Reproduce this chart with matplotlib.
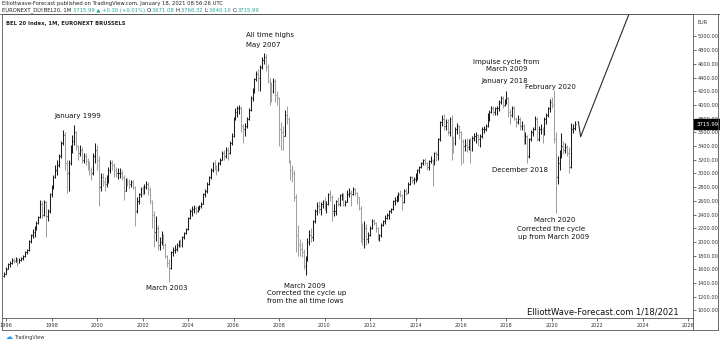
import matplotlib
matplotlib.use("Agg")
import matplotlib.pyplot as plt
import numpy as np
from matplotlib.collections import LineCollection
from matplotlib.lines import Line2D

# BEL 20 monthly bars, Dec 1995 .. Jan 2021
first_open = 1500
closes = [1540,
    1610, 1680, 1690, 1740, 1720, 1760, 1700, 1740, 1760, 1790, 1850, 1880,  # 1996
    2010, 2100, 2150, 2200, 2280, 2360, 2560, 2400, 2580, 2380, 2450, 2700,  # 1997
    2780, 2950, 3050, 3120, 3250, 3450, 3560, 3150, 3000, 3150, 3350, 3480,  # 1998
    3600, 3400, 3300, 3350, 3200, 3250, 3180, 3150, 3050, 3000, 3250, 3350,  # 1999
    3200, 2800, 2950, 2880, 2850, 2900, 3050, 3150, 3120, 3050, 3000, 3000,  # 2000
    3000, 2950, 2750, 2900, 2880, 2850, 2870, 2800, 2450, 2600, 2700, 2780,  # 2001
    2760, 2800, 2850, 2780, 2600, 2400, 2150, 2200, 1950, 2000, 2100, 1950,  # 2002
    1800, 1700, 1620, 1850, 1880, 1900, 1950, 2000, 1950, 2070, 2130, 2190,  # 2003
    2350, 2450, 2480, 2500, 2450, 2500, 2520, 2560, 2700, 2750, 2850, 2950,  # 2004
    3050, 3150, 3100, 3050, 3150, 3200, 3300, 3250, 3350, 3300, 3450, 3550,  # 2005
    3800, 3900, 3950, 3950, 3700, 3650, 3700, 3800, 3930, 4100, 4200, 4380,  # 2006
    4450, 4400, 4550, 4650, 4700, 4550, 4350, 4250, 4200, 4350, 4150, 4100,  # 2007
    3650, 3600, 3550, 3850, 3800, 3150, 3050, 3000, 2650, 2100, 1950, 1900,  # 2008
    1850, 1650, 1750, 2000, 2100, 2080, 2300, 2450, 2530, 2480, 2550, 2600,  # 2009
    2500, 2550, 2700, 2650, 2450, 2450, 2600, 2550, 2680, 2680, 2550, 2580,  # 2010
    2700, 2720, 2700, 2780, 2720, 2650, 2500, 2200, 2050, 2200, 2050, 2100,  # 2011
    2200, 2300, 2280, 2200, 2050, 2100, 2250, 2300, 2350, 2400, 2450, 2480,  # 2012
    2600, 2620, 2650, 2700, 2680, 2580, 2750, 2720, 2850, 2950, 2900, 2920,  # 2013
    2950, 3050, 3100, 3150, 3200, 3150, 3100, 3180, 3200, 3150, 3300, 3280,  # 2014
    3500, 3750, 3800, 3700, 3750, 3600, 3800, 3500, 3450, 3650, 3700, 3600,  # 2015
    3480, 3400, 3420, 3380, 3450, 3350, 3520, 3550, 3560, 3500, 3550, 3650,  # 2016
    3650, 3700, 3850, 3900, 3950, 3900, 3950, 3950, 4050, 4100, 4000, 4050,  # 2017
    4100, 3900, 3850, 3950, 3800, 3750, 3800, 3700, 3700, 3500, 3550, 3250,  # 2018
    3500, 3600, 3650, 3800, 3500, 3650, 3650, 3600, 3800, 3850, 3950, 4050,  # 2019
    4000, 3500, 2950, 3150, 3300, 3400, 3350, 3380, 3300, 3100, 3650, 3671.08,  # 2020
    3715.99]  # 2021
highs = [1560,
    1630, 1700, 1720, 1760, 1770, 1780, 1770, 1760, 1780, 1810, 1870, 1900,
    2030, 2120, 2190, 2230, 2300, 2380, 2620, 2600, 2620, 2600, 2480, 2720,
    2830, 2980, 3120, 3200, 3280, 3480, 3640, 3600, 3200, 3200, 3420, 3560,
    3710, 3620, 3420, 3420, 3380, 3300, 3300, 3220, 3180, 3100, 3300, 3440,
    3420, 3250, 3000, 3000, 2950, 2980, 3100, 3200, 3200, 3150, 3100, 3080,
    3080, 3050, 2980, 2930, 2930, 2920, 2900, 2900, 2820, 2650, 2720, 2800,
    2820, 2840, 2890, 2880, 2800, 2620, 2450, 2380, 2250, 2080, 2160, 2120,
    1980, 1810, 1750, 1870, 1930, 1960, 1980, 2030, 2040, 2090, 2150, 2210,
    2370, 2480, 2530, 2540, 2520, 2520, 2540, 2580, 2720, 2770, 2870, 2970,
    3080, 3170, 3190, 3120, 3170, 3230, 3330, 3340, 3380, 3390, 3470, 3590,
    3830, 3960, 3980, 4000, 3990, 3720, 3740, 3830, 3960, 4130, 4250, 4400,
    4500, 4520, 4580, 4700, 4760, 4740, 4600, 4400, 4330, 4400, 4380, 4200,
    4120, 3750, 3700, 3930, 3980, 3820, 3200, 3130, 3050, 2700, 2250, 2050,
    2000, 1900, 1800, 2060, 2180, 2200, 2320, 2480, 2580, 2600, 2580, 2620,
    2660, 2600, 2720, 2760, 2680, 2560, 2620, 2650, 2700, 2720, 2720, 2620,
    2760, 2790, 2760, 2800, 2790, 2730, 2660, 2520, 2270, 2300, 2260, 2150,
    2240, 2330, 2340, 2290, 2220, 2120, 2270, 2320, 2400, 2420, 2460, 2500,
    2620, 2660, 2680, 2730, 2760, 2700, 2770, 2790, 2870, 2970, 2970, 2950,
    3000, 3070, 3110, 3170, 3210, 3230, 3170, 3190, 3250, 3210, 3310, 3330,
    3520, 3770, 3860, 3870, 3790, 3800, 3830, 3860, 3550, 3680, 3740, 3710,
    3620, 3500, 3500, 3520, 3500, 3520, 3540, 3590, 3600, 3580, 3570, 3680,
    3700, 3720, 3880, 3930, 3990, 3980, 3970, 3980, 4070, 4130, 4130, 4090,
    4200, 4120, 3940, 3980, 3990, 3820, 3850, 3820, 3760, 3720, 3600, 3560,
    3520, 3640, 3680, 3840, 3820, 3700, 3720, 3680, 3830, 3880, 3970, 4080,
    4110, 4219, 3600, 3250, 3350, 3590, 3480, 3450, 3420, 3390, 3740, 3720,
    3766.32]
lows = [1490,
    1530, 1600, 1640, 1680, 1700, 1710, 1650, 1690, 1720, 1740, 1780, 1830,
    1870, 1990, 2060, 2080, 2180, 2260, 2350, 2350, 2380, 2080, 2300, 2430,
    2650, 2770, 2930, 2980, 3100, 3230, 3420, 3050, 2710, 2750, 3120, 3300,
    3420, 3350, 3200, 3250, 3150, 3150, 3120, 3050, 2980, 2900, 2980, 3150,
    3050, 2520, 2750, 2820, 2750, 2800, 2860, 3010, 3050, 2950, 2950, 2920,
    2930, 2900, 2610, 2740, 2820, 2780, 2800, 2780, 2230, 2430, 2550, 2660,
    2680, 2700, 2770, 2690, 2560, 2200, 1930, 2020, 1880, 1880, 1960, 1900,
    1760, 1640, 1420, 1600, 1800, 1840, 1870, 1930, 1920, 1930, 2050, 2110,
    2180, 2340, 2380, 2430, 2410, 2440, 2470, 2490, 2550, 2660, 2720, 2830,
    2920, 3020, 3050, 2980, 3030, 3130, 3190, 3200, 3230, 3200, 3280, 3420,
    3530, 3780, 3830, 3870, 3600, 3440, 3550, 3660, 3780, 3910, 4060, 4180,
    4350, 4200, 4200, 4530, 4600, 4500, 4320, 4000, 4050, 4180, 4050, 4000,
    3400, 3350, 3340, 3550, 3720, 3150, 2900, 2880, 2600, 1850, 1800, 1800,
    1780, 1600, 1520, 1720, 1960, 2000, 2020, 2280, 2400, 2420, 2400, 2500,
    2460, 2420, 2540, 2600, 2300, 2380, 2400, 2520, 2520, 2620, 2520, 2530,
    2580, 2660, 2520, 2680, 2680, 2560, 2470, 2000, 1950, 1910, 1950, 1980,
    2090, 2190, 2250, 2140, 2030, 2010, 2080, 2230, 2260, 2330, 2340, 2420,
    2470, 2540, 2590, 2600, 2650, 2470, 2570, 2690, 2720, 2830, 2860, 2850,
    2870, 2900, 3000, 3080, 3130, 3130, 3050, 3050, 3150, 2820, 3120, 3180,
    3200, 3480, 3700, 3640, 3630, 3560, 3550, 3200, 3300, 3420, 3580, 3500,
    3130, 3150, 3330, 3320, 3340, 3150, 3330, 3480, 3450, 3400, 3390, 3520,
    3590, 3620, 3680, 3770, 3880, 3850, 3860, 3860, 3910, 4020, 3960, 3980,
    4010, 3820, 3720, 3830, 3780, 3680, 3720, 3640, 3640, 3430, 3430, 3150,
    3220, 3480, 3550, 3640, 3480, 3480, 3570, 3440, 3560, 3720, 3820, 3900,
    3950, 3450, 2420, 2850, 3050, 3230, 3280, 3300, 3250, 3000, 3080, 3590,
    3640.10]

# hand-drawn projection line (year, price)
proj_x = [2021.16, 2021.26, 2023.71]
proj_y = [3756, 3537, 5600]

year_ticks = list(range(1996, 2027, 2))
price_ticks = list(range(1000, 5001, 200))
last_price = 3715.99

notes = [
    ("January 1999", 1999.16, 3839),
    ("All time highs", 2007.60, 5022),
    ("May 2007", 2007.30, 4875),
    ("March 2003", 2003.06, 1329),
    ("March 2009", 2009.14, 1362),
    ("Corrected the cycle up", 2009.21, 1250),
    ("from the all time lows", 2009.14, 1138),
    ("Impulse cycle from", 2017.97, 4634),
    ("March 2009", 2018.01, 4523),
    ("January 2018", 2017.93, 4350),
    ("February 2020", 2019.94, 4268),
    ("December 2018", 2018.60, 3047),
    ("March 2020", 2020.13, 2322),
    ("Corrected the cycle", 2019.94, 2186),
    ("up from March 2009", 2020.06, 2070),
]

opens = [first_open] + closes[:-1]
x = 1995 + 11 / 12 + np.arange(len(closes)) / 12

W, H = 720, 344
fig = plt.figure(figsize=(W / 100, H / 100), dpi=100)
L, R, T, B = 2, 693, 14, 318
ax = fig.add_axes([L / W, 1 - B / H, (R - L) / W, (B - T) / H])
ax.set_xlim(1995.82, 2026.2)
ax.set_ylim(890.5, 5328)

up_col, dn_col = "#1c1c1c", "#a0a0a0"
tk = 0.035
segs, cols = [], []
for xi, o, h, l, c in zip(x, opens, highs, lows, closes):
    col = up_col if c >= o else dn_col
    segs += [[(xi, l), (xi, h)], [(xi - tk, o), (xi, o)], [(xi, c), (xi + tk, c)]]
    cols += [col] * 3
ax.add_collection(LineCollection(segs, colors=cols, linewidths=0.75))

ax.plot(proj_x, proj_y, color="#2a2a2a", lw=0.8, clip_on=True)

for s in ax.spines.values():
    s.set_color("#555555")
    s.set_linewidth(0.6)

ax.yaxis.tick_right()
ax.set_yticks(price_ticks)
ax.set_yticklabels([f"{p:.2f}" for p in price_ticks])
ax.set_xticks(year_ticks)
ax.set_xticklabels([str(y) for y in year_ticks])
ax.tick_params(axis="y", labelsize=3.6, length=2, width=0.5, pad=1.2,
               colors="#333333")
ax.tick_params(axis="x", labelsize=3.6, length=2, width=0.5, pad=1.5,
               colors="#333333")

# frame lines around the price and time scales
def fline(x0, y0, x1, y1):
    fig.add_artist(Line2D([x0 / W, x1 / W], [1 - y0 / H, 1 - y1 / H],
                          color="#555555", lw=0.6))
fline(0, T, W, T)
fline(L, 330, 718, 330)
fline(718, T, 718, 330)
fline(L, B, L, 330)
fline(R, B, R, 330)

# last price tag
ax.annotate(f"{last_price:.2f}", xy=(1, last_price),
            xycoords=("axes fraction", "data"), xytext=(2.2, 0),
            textcoords="offset points", fontsize=3.9, color="white",
            va="center", ha="left",
            bbox=dict(boxstyle="square,pad=0.45", fc="black", ec="black"))
fig.text(698 / W, 1 - 22.5 / H, "EUR", fontsize=3.6, color="#333333",
         va="center", ha="left")

for txt, xv, yv in notes:
    ax.text(xv, yv, txt, fontsize=5, ha="center", va="center", color="#111111")

fig.text(679 / W, 1 - 312 / H, "ElliottWave-Forecast.com 1/18/2021",
         fontsize=6, ha="right", va="center", color="#111111")
fig.text(6 / W, 1 - 23 / H, "BEL 20 Index, 1M, EURONEXT BRUSSELS",
         fontsize=3.8, fontweight="bold", ha="left", va="center",
         color="#222222")

# header lines, pieced together so the values can carry their own colour
renderer = fig.canvas.get_renderer()

def chain(x0, ypx, parts, size):
    xf = x0 / W
    for s, col in parts:
        t = fig.text(xf, 1 - ypx / H, s, fontsize=size, color=col,
                     ha="left", va="center")
        xf += t.get_window_extent(renderer).width / W

chain(2, 4, [("Elliottwave-Forecast published on TradingView.com, "
              "January 18, 2021 08:56:26 UTC", "#222222")], 3.8)
grn = "#26a69a"
chain(2, 10.5, [("EURONEXT_DLY:BEL20, 1M ", "#222222"),
                ("3715.99 \u25b2 +0.30 (+0.01%) ", grn),
                ("O:", "#222222"), ("3671.08 ", grn),
                ("H:", "#222222"), ("3766.32 ", grn),
                ("L:", "#222222"), ("3640.10 ", grn),
                ("C:", "#222222"), ("3715.99", grn)], 3.8)

fig.text(6 / W, 1 - 337 / H, "\u2601", fontsize=5, color="#2196f3",
         ha="left", va="center")
fig.text(14 / W, 1 - 337 / H, "TradingView", fontsize=3.6, color="#333333",
         ha="left", va="center")

fig.savefig("out.png", dpi=100)
